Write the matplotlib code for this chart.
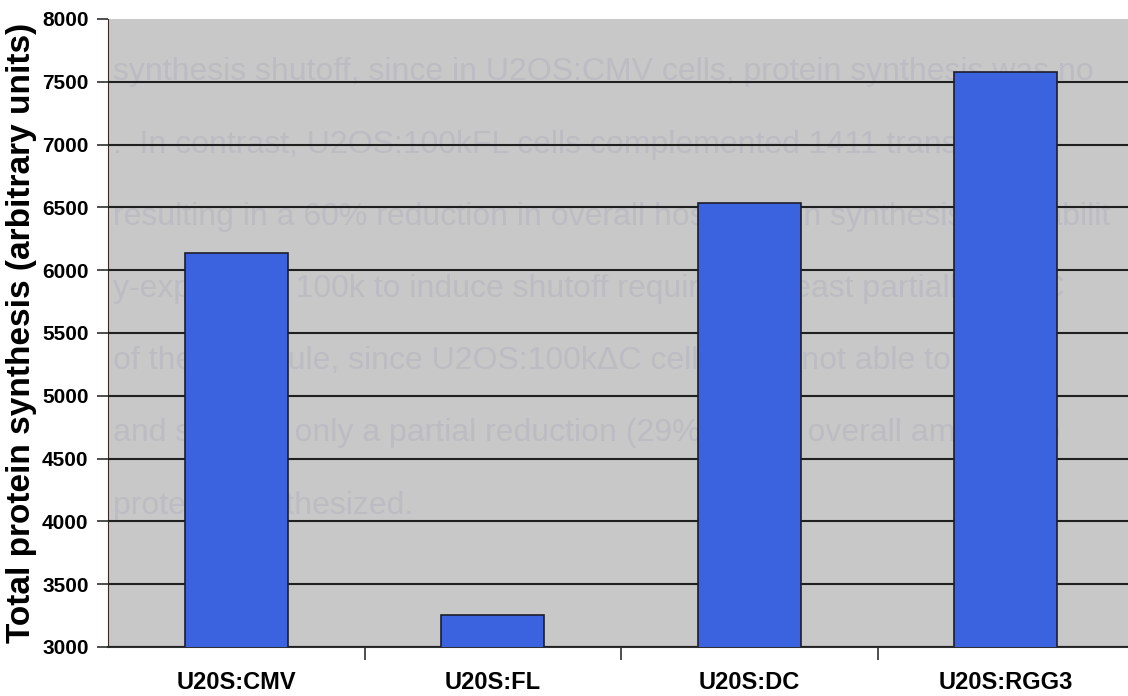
import matplotlib.pyplot as plt
from matplotlib.ticker import FixedLocator, NullFormatter

# Data
categories = ['U20S:CMV', 'U20S:FL', 'U20S:DC', 'U20S:RGG3']
values = [6140, 3255, 6535, 7580]
y_ticks = [3000, 3500, 4000, 4500, 5000, 5500, 6000, 6500, 7000, 7500, 8000]

# faint show-through text from the scanned page
bleed_lines = [
    'synthesis shutoff, since in U2OS:CMV cells, protein synthesis was no',
    '.  In contrast, U2OS:100kFL cells complemented 1411 translatio',
    'resulting in a 60% reduction in overall host protein synthesis. The abilit',
    'y-expressed 100k to induce shutoff requires, at least partially, the C',
    'of the molecule, since U2OS:100k\u0394C cells were not able to suppo',
    'and showed only a partial reduction (29%) in the overall amounts o',
    'proteins synthesized.',
]

plt.rcParams['font.family'] = ['Liberation Sans', 'DejaVu Sans']

fig = plt.figure(figsize=(11.28, 6.96), dpi=100)
ax = fig.add_axes([108 / 1128, 49 / 696, 1026 / 1128, 628 / 696])
ax.set_facecolor('#c8c8c8')

x = range(len(categories))
ax.bar(x, values, width=0.4, color='#3b63e0', edgecolor='#1e1e2a',
       linewidth=1.2, zorder=3)

# background show-through text
for i, line in enumerate(bleed_lines):
    ax.text(0.005, 0.915 - i * 0.115, line, transform=ax.transAxes,
            fontsize=23, color='#bcbcc3', ha='left', va='center',
            zorder=1, clip_on=True)

ax.set_xlim(-0.5, len(categories) - 0.5)
ax.set_ylim(3000, 8000)
ax.set_yticks(y_ticks)
ax.yaxis.grid(True, color='#202020', linewidth=1.5, zorder=2)
ax.set_axisbelow(False)
ax.get_ygridlines()[-1].set_visible(False)

# category boundaries as ticks, names centred between them
ax.xaxis.set_major_locator(FixedLocator([0.5, 1.5, 2.5]))
ax.xaxis.set_major_formatter(NullFormatter())
ax.xaxis.set_minor_locator(FixedLocator(list(x)))
ax.set_xticklabels(categories, minor=True, fontsize=17, fontweight='bold')
ax.tick_params(axis='x', which='major', length=9, width=1.2, color='#303030')
ax.tick_params(axis='x', which='minor', length=0, pad=17)
ax.tick_params(axis='y', length=8, width=1.2, color='#303030', pad=6,
               labelsize=15)
for lab in ax.get_yticklabels():
    lab.set_fontweight('bold')

ax.spines['top'].set_visible(False)
ax.spines['right'].set_visible(False)
ax.spines['left'].set_color('#3a2a2a')
ax.spines['bottom'].set_color('#303030')
ax.spines['bottom'].set_linewidth(1.5)

ax.set_ylabel('Total protein synthesis (arbitrary units)', fontsize=24,
              fontweight='bold')
ax.yaxis.set_label_coords(-0.084, 0.5)
ax.yaxis.label.set_verticalalignment('center')

fig.savefig('out.png', dpi=100)
